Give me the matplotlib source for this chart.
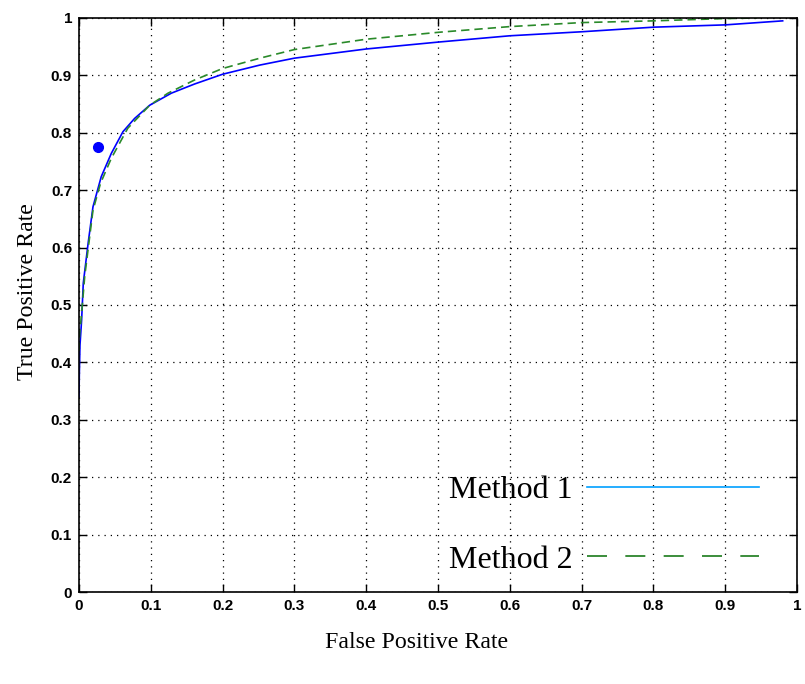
import matplotlib.pyplot as plt
from matplotlib.lines import Line2D

# ROC curves
fpr1 = [0, 0.0005, 0.0014, 0.0037, 0.006, 0.013, 0.0195, 0.031, 0.045, 0.0613, 0.0775,
        0.0985, 0.1286, 0.161, 0.2, 0.252, 0.3, 0.4, 0.5, 0.6, 0.7, 0.8, 0.9, 0.98]
tpr1 = [0.34, 0.38, 0.43, 0.474, 0.538, 0.61, 0.671, 0.7235, 0.764, 0.802, 0.825,
        0.848, 0.869, 0.885, 0.902, 0.918, 0.93, 0.946, 0.958, 0.969, 0.976, 0.984, 0.988, 0.995]

fpr2 = [0, 0.001, 0.004, 0.008, 0.014, 0.0195, 0.03, 0.045, 0.068, 0.0985, 0.124,
        0.161, 0.2, 0.252, 0.3, 0.4, 0.5, 0.6, 0.7, 0.8, 0.9, 0.944]
tpr2 = [0.42, 0.45, 0.49, 0.55, 0.61, 0.665, 0.712, 0.7555, 0.808, 0.848, 0.869,
        0.892, 0.912, 0.93, 0.945, 0.963, 0.975, 0.985, 0.992, 0.995, 0.999, 1.0]

point_fpr = [0.027]
point_tpr = [0.776]

ticks = [0, 0.1, 0.2, 0.3, 0.4, 0.5, 0.6, 0.7, 0.8, 0.9, 1]
tick_labels = ['0', '0.1', '0.2', '0.3', '0.4', '0.5', '0.6', '0.7', '0.8', '0.9', '1']
labels = ['Method 1', 'Method 2']

fig = plt.figure(figsize=(8.05, 6.84), dpi=100)
ax = fig.add_axes([0.0981, 0.1345, 0.892, 0.8392])

ax.plot(fpr1, tpr1, color='blue', lw=1.2)
ax.plot(fpr2, tpr2, color='#2a8a2a', lw=1.2, dashes=(5, 3))
ax.plot(point_fpr, point_tpr, 'o', color='blue', markersize=7)

ax.set_xlim(0, 1)
ax.set_ylim(0, 1)
ax.set_xticks(ticks)
ax.set_yticks(ticks)
ax.set_xticklabels(tick_labels)
ax.set_yticklabels(tick_labels)
for lab in ax.get_xticklabels() + ax.get_yticklabels():
    lab.set_family('Liberation Sans')
    lab.set_fontweight('bold')
    lab.set_fontsize(11)
ax.tick_params(direction='in', top=True, right=True, length=6, width=1, pad=5)
ax.grid(True, color='black', linestyle=(0, (1, 4)), linewidth=0.9)
for s in ax.spines.values():
    s.set_linewidth(1.2)

ax.set_xlabel('False Positive Rate', family='Liberation Serif', fontsize=17.2)
ax.set_ylabel('True Positive Rate', family='Liberation Serif', fontsize=17.2)
ax.xaxis.set_label_coords(0.47, -0.07)
ax.yaxis.set_label_coords(-0.057, 0.5235)

handles = [Line2D([], [], color='#00a0ff', lw=1.2),
           Line2D([], [], color='#1a7a1a', lw=1.2, dashes=(12, 11))]
leg = ax.legend(handles, labels, markerfirst=False, frameon=False,
                prop={'family': 'Liberation Serif', 'size': 23},
                handlelength=5.4, handletextpad=0.45, labelspacing=1.25,
                borderaxespad=0.0, loc='lower right', bbox_to_anchor=(0.965, 0.008))

fig.savefig('out.png', dpi=100)
